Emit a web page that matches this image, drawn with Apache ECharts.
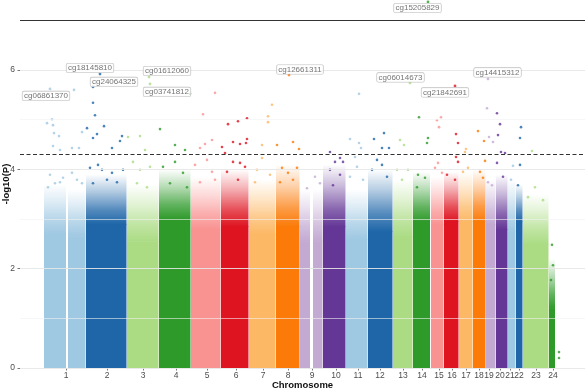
<!DOCTYPE html>
<html><head><meta charset="utf-8">
<script src="https://cdn.jsdelivr.net/npm/echarts@6/dist/echarts.min.js"></script>
<style>html,body{margin:0;padding:0;background:#fff}#c{width:585px;height:390px}</style>
</head><body><div id="c"></div>
<script>
// ---------- data ----------
const chromosomes = ['1','2','3','4','5','6','7','8','9','10','11','12','13','14','15','16','17','18','19','20','21','22','23','24'];
// cumulative genome position of each chromosome label
const chrTicks = [276,522,738,936,1122,1296,1458,1608,1752,1896,2028,2160,2298,2412,2514,2592,2676,2754,2814,2880,2940,2994,3096,3198];
// probe-dense blocks (chromosome, start, end, -log10P saturation level, -log10P where the cloud thins out)
const blockChr    = [1,1,2,3,4,5,6,7,8,9,9,10,11,12,13,14,15,16,17,18,19,20,21,22,23,24];
const blockStart  = [144,288,396,642,834,1026,1206,1374,1536,1680,1758,1818,1956,2088,2238,2358,2466,2544,2634,2718,2796,2856,2928,2976,3018,3174];
const blockEnd    = [276,393,639,831,1023,1203,1371,1533,1677,1740,1815,1953,2085,2235,2355,2460,2541,2631,2715,2793,2853,2925,2973,3015,3171,3210];
const blockDense  = [2.7,2.65,2.9,2.55,3.0,2.8,2.85,2.7,2.85,2.55,2.55,2.85,2.6,2.75,2.65,2.95,2.9,2.95,2.95,2.95,2.9,2.8,2.75,2.95,2.5,1.2];
const blockSparse = [3.7,3.6,3.9,3.7,4.0,3.85,4.0,3.8,4.1,3.6,3.6,4.1,3.6,4.0,3.8,3.95,3.85,3.95,3.95,4.0,3.8,3.9,3.8,3.7,3.5,2.2];
// individual probes above the dense cloud: [chromosome, position, -log10P]
const sparseProbes = [
 [1,324,5.60],[1,162,4.93],[1,192,5.01],[1,198,4.89],[1,234,4.67],[1,204,4.73],[1,372,4.75],[1,198,4.47],[1,312,4.43],[1,354,4.43],[1,240,4.39],[1,180,3.89],[1,240,3.74],[1,168,3.64],[1,210,3.72],[1,258,3.83],[1,312,3.93],[1,342,3.79],[1,372,3.72],
 [2,438,5.34],[2,450,5.09],[2,402,4.83],[2,462,4.71],[2,504,4.87],[2,438,4.63],[2,612,4.67],[2,600,4.57],[2,552,4.43],[2,420,4.03],[2,468,4.09],[2,492,3.99],[2,552,3.93],[2,618,3.99],[2,438,3.72],[2,522,3.79],[2,582,3.74],
 [3,648,4.65],[3,720,4.67],[3,750,4.39],[3,678,4.15],[3,720,3.99],[3,780,4.05],[3,702,3.72],[3,762,3.64],
 [4,1020,5.52],[4,840,4.81],[4,930,4.49],[4,990,4.39],[4,858,4.05],[4,930,4.15],[4,978,3.93],[4,900,3.72],[4,1002,3.64],
 [5,1170,5.54],[5,1098,5.11],[5,1110,4.51],[5,1080,4.43],[5,1152,4.59],[5,1050,4.09],[5,1122,4.19],[5,1152,3.95],[5,1080,3.74],[5,1170,3.79],
 [6,1248,4.91],[6,1308,4.97],[6,1362,5.03],[6,1278,4.55],[6,1320,4.51],[6,1362,4.61],[6,1356,4.53],[6,1212,4.45],[6,1230,4.33],[6,1278,4.15],[6,1320,4.13],[6,1350,4.05],[6,1242,3.95],[6,1308,3.79],
 [7,1512,5.30],[7,1488,5.07],[7,1488,4.95],[7,1452,4.49],[7,1452,4.23],[7,1422,3.99],[7,1500,3.89],[7,1410,3.74],
 [8,1542,4.49],[8,1638,4.55],[8,1674,4.41],[8,1572,4.03],[8,1662,4.03],[8,1608,3.93],[8,1638,3.79],[8,1560,3.74],
 [9,1770,3.85],[9,1800,3.72],[9,1722,3.62],
 [10,1860,4.35],[10,1920,4.23],[10,1890,4.15],[10,1938,4.15],[10,1860,3.99],[10,1920,3.89],[10,1878,3.68],
 [11,2034,5.52],[11,1980,4.61],[11,2034,4.53],[11,2046,4.43],[11,2010,4.25],[11,2022,4.05],[11,1980,3.85],[11,2058,3.79],
 [12,2124,4.61],[12,2184,4.73],[12,2172,4.43],[12,2214,4.43],[12,2142,4.19],[12,2172,4.09],[12,2112,3.99],[12,2202,3.85],
 [13,2280,4.59],[13,2304,4.49],[13,2262,3.99],[13,2328,3.99],[13,2292,3.79],
 [14,2394,5.05],[14,2448,4.63],[14,2442,4.53],[14,2388,3.89],[14,2430,3.83],[14,2382,3.64],
 [15,2502,4.99],[15,2526,5.05],[15,2514,4.85],[15,2508,4.13],[15,2490,4.03],[15,2532,3.93],
 [16,2616,4.71],[16,2628,4.53],[16,2628,4.15],[16,2616,4.25],[16,2562,3.89],[16,2610,3.79],
 [17,2676,4.41],[17,2688,4.03],[17,2658,3.95],[17,2670,4.35],
 [18,2748,4.77],[18,2784,4.57],[18,2790,4.17],[18,2760,3.95],[18,2778,3.83],
 [19,2802,5.23],[19,2814,4.65],[19,2838,4.55],[19,2808,3.74],[19,2832,3.68],
 [20,2862,5.13],[20,2880,4.91],[20,2868,4.69],[20,2886,4.35],[20,2910,4.33],[20,2862,4.13],[20,2898,3.85],
 [21,2958,4.07],[21,2946,3.79],
 [22,3000,4.63],[22,3006,4.85],[22,3000,4.09],[22,2988,3.68],
 [23,3072,4.37],[23,3090,3.64],[23,3138,3.38],[23,3048,3.44],
 [24,3234,0.32],[24,3234,0.20],[24,3192,2.48],[24,3198,2.07],[24,3186,1.77]
];
// annotated top probes
const probeNames = ['cg06861370','cg18145810','cg24064325','cg01612060','cg03741812','cg12661311','cg06014673','cg21842691','cg14415312','cg15205829'];
const probeChr   = [1,2,2,3,3,8,13,16,19,14];
const probePos   = [180,480,438,774,780,1614,2340,2610,2808,2448];
const probeLogP  = [5.62,5.92,5.66,5.86,5.72,5.90,5.74,5.68,5.82,7.37];
const gridMajor = [0,2,4,6];
const gridMinor = [1,3,5,7];
const genomeWideLine = 7;
const suggestiveLine = 4.3;

// ---------- styles ----------
const palette = ['#9FC8E2','#1E66A8','#ABDC84','#2E9A2A','#F99392','#DE1420','#FCB865','#FB7A08','#C3AAD3','#643796'];
const labelOffsets = {cg06861370:[-4,7],cg18145810:[-10,-6],cg24064325:[21,-5],cg01612060:[18,-6],cg03741812:[17,8],
  cg12661311:[11,-5.5],cg06014673:[-9.5,-5.5],cg21842691:[-10,6.5],cg14415312:[9.5,-6.5],cg15205829:[-10.5,6]};
const FONT = 'Liberation Sans, Arial, sans-serif';
function colorOf(c){ return palette[(c-1)%10]; }
function rgba(hex,a){ const n=parseInt(hex.slice(1),16); return 'rgba('+(n>>16&255)+','+(n>>8&255)+','+(n&255)+','+a+')'; }

const blockData = blockChr.map((c,i)=>[blockStart[i],blockEnd[i],blockDense[i],blockSparse[i],c]);
const sparseData = sparseProbes.map(p=>({value:[p[1],p[2]], itemStyle:{color:colorOf(p[0])}}));
const probeData = probeNames.map((n,i)=>({
  value:[probePos[i],probeLogP[i]], name:n, itemStyle:{color:colorOf(probeChr[i])},
  label:{show:true, formatter:n, position:'inside', offset:labelOffsets[n], align:'center', verticalAlign:'middle',
    backgroundColor:'#fff', borderColor:'#b0b0b0', borderWidth:0.6, borderRadius:1.5, padding:[1,1.5,0,1.5],
    color:'#505050', fontSize:8, fontFamily:FONT}
}));

const chart = echarts.init(document.getElementById('c'), null, {renderer:'canvas'});
chart.setOption({
  animation:false,
  backgroundColor:'#fff',
  grid:{left:20,right:0,top:0,bottom:22,containLabel:false,outerBoundsMode:'none'},
  xAxis:{type:'value',min:0,max:3390,
    name:'Chromosome',nameLocation:'middle',nameGap:12,nameMoveOverlap:false,
    nameTextStyle:{fontFamily:FONT,fontWeight:'bold',fontSize:9.5,color:'#111'},
    axisLine:{show:false},splitLine:{show:false},
    axisTick:{show:true,length:2.5,customValues:chrTicks,lineStyle:{color:'#555',width:0.8}},
    axisLabel:{customValues:chrTicks,margin:3,fontFamily:FONT,fontSize:8.5,color:'#4d4d4d',
      formatter:v=>{const i=chrTicks.findIndex(t=>Math.abs(t-v)<0.5);return i>=0?chromosomes[i]:'';}}
  },
  yAxis:{type:'value',min:0,max:7.41,
    name:'-log10(P)',nameLocation:'middle',nameGap:9,nameRotate:90,nameMoveOverlap:false,
    nameTextStyle:{fontFamily:FONT,fontWeight:'bold',fontSize:9.5,color:'#111'},
    axisLine:{show:false},splitLine:{show:false},
    axisTick:{show:true,length:2.5,customValues:gridMajor,lineStyle:{color:'#555',width:0.8}},
    axisLabel:{customValues:gridMajor,margin:5,fontFamily:FONT,fontSize:8.5,color:'#4d4d4d'}
  },
  series:[
    {type:'line',data:[],z:0,silent:true,
      markLine:{silent:true,symbol:['none','none'],label:{show:false},animation:false,
        data:gridMajor.map(v=>({yAxis:v,lineStyle:{color:'#e6e6e6',width:0.9,type:'solid'}}))
          .concat(gridMinor.map(v=>({yAxis:v,lineStyle:{color:'#f1f1f1',width:0.6,type:'solid'}})))}},
    {type:'custom',z:2,silent:true,data:blockData,
      renderItem:function(params,api){
        const s=api.value(0),e=api.value(1),h1=api.value(2),h2=api.value(3),c=api.value(4);
        const p0=api.coord([s,0]),p1=api.coord([e,h1]),p2=api.coord([e,h2]);
        const col=colorOf(c);
        return {type:'group',children:[
          {type:'rect',shape:{x:p0[0],y:p1[1],width:p1[0]-p0[0],height:p0[1]-p1[1]},style:{fill:col}},
          {type:'rect',shape:{x:p0[0],y:p2[1],width:p1[0]-p0[0],height:p1[1]-p2[1]+0.5},
            style:{fill:new echarts.graphic.LinearGradient(0,0,0,1,[
              {offset:0,color:rgba(col,0)},{offset:0.35,color:rgba(col,0.35)},{offset:0.7,color:rgba(col,0.75)},{offset:1,color:rgba(col,1)}])}}
        ]};
      }},
    {type:'scatter',z:3,silent:true,symbolSize:2.6,data:sparseData},
    {type:'line',data:[],z:4,silent:true,
      markLine:{silent:true,symbol:['none','none'],label:{show:false},animation:false,
        data:[{yAxis:genomeWideLine,lineStyle:{color:'#333',width:1.1,type:'solid'}},
              {yAxis:suggestiveLine,lineStyle:{color:'#333',width:1.1,type:[4,2.5]}}]}},
    {type:'scatter',z:5,silent:true,symbolSize:2.8,data:probeData}
  ]
});
</script></body></html>
